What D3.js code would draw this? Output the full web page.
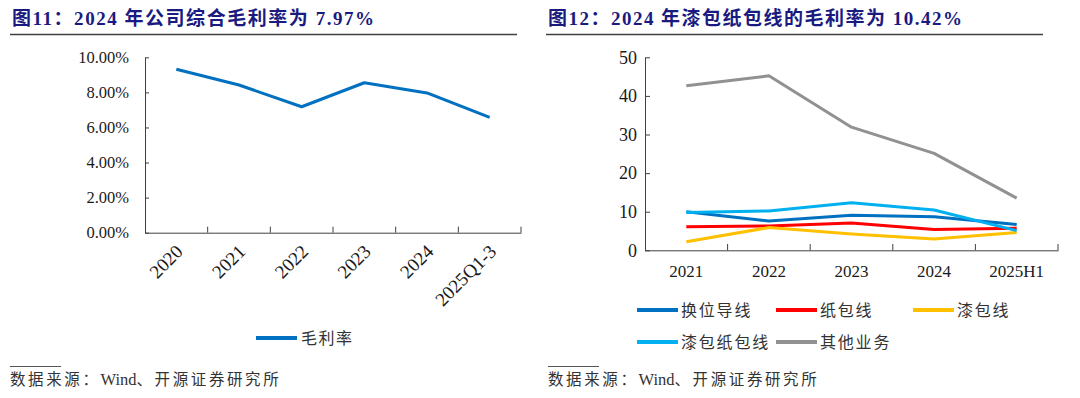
<!DOCTYPE html>
<html><head><meta charset="utf-8">
<script src="https://cdn.jsdelivr.net/npm/d3@7"></script>
<style>
html,body{margin:0;padding:0;background:#fff;}
svg{display:block;}
</style></head>
<body>
<svg id="c" width="1080" height="398"></svg>
<script>
// ---------- data ----------
const leftCategories = ["2020","2021","2022","2023","2024","2025Q1-3"];
const grossMargin = [0.0932, 0.0842, 0.0718, 0.0855, 0.0797, 0.0658];
const leftTicks = [0, 0.02, 0.04, 0.06, 0.08, 0.10];

const rightCategories = ["2021","2022","2023","2024","2025H1"];
const transposedWire = [10.0, 7.6, 9.1, 8.7, 6.7];     // 换位导线
const paperWire = [6.1, 6.3, 7.1, 5.4, 5.7];            // 纸包线
const enamelWire = [2.2, 5.9, 4.2, 2.9, 4.6];           // 漆包线
const enamelPaperWire = [9.8, 10.2, 12.3, 10.42, 5.1];  // 漆包纸包线
const otherBiz = [42.6, 45.2, 31.9, 25.1, 13.5];        // 其他业务
const rightTicks = [0, 10, 20, 30, 40, 50];

const rightSeries = [
  {name:"换位导线", values: transposedWire, color:"#0070C0"},
  {name:"纸包线", values: paperWire, color:"#FF0000"},
  {name:"漆包线", values: enamelWire, color:"#FFC000"},
  {name:"漆包纸包线", values: enamelPaperWire, color:"#00B0F0"},
  {name:"其他业务", values: otherBiz, color:"#919191"}
];

const svg = d3.select("#c");
const serif = "'Liberation Serif','Times New Roman',serif";
const cjk = "'Liberation Serif','Noto Sans CJK SC',sans-serif";
const cjkSans = "'Noto Sans CJK SC',sans-serif";
const axisColor = "#404040";
const titleColor = "#1A1A80";

// ---------- titles ----------
function title(x, text, len){
  svg.append("text").attr("x", x).attr("y", 25)
    .attr("font-family", cjk).attr("font-weight", "bold").attr("font-size", 19)
    .attr("fill", titleColor).attr("textLength", len).attr("lengthAdjust","spacing")
    .text(text);
}
title(12, "图11：2024 年公司综合毛利率为 7.97%", 362);
title(548, "图12：2024 年漆包纸包线的毛利率为 10.42%", 414);
svg.append("line").attr("x1",10).attr("x2",517).attr("y1",34.5).attr("y2",34.5).attr("stroke","#404040").attr("stroke-width",1.5);
svg.append("line").attr("x1",546).attr("x2",1043).attr("y1",34.5).attr("y2",34.5).attr("stroke","#404040").attr("stroke-width",1.5);

// ---------- left chart ----------
const xL = d3.scaleBand().domain(leftCategories).range([145, 521]).padding(0);
const yL = d3.scaleLinear().domain([0, 0.10]).range([232.7, 57.3]);

const gyL = svg.append("g").attr("transform","translate(145,0)")
  .call(d3.axisLeft(yL).tickValues(leftTicks).tickSizeInner(-4).tickSizeOuter(0).tickPadding(16)
    .tickFormat(d => (d*100).toFixed(2) + "%"));
gyL.selectAll(".tick text").attr("font-size",16.5);
svg.append("g").attr("transform","translate(0,232.7)")
  .call(d3.axisBottom(xL).tickSize(0).tickFormat(""));
const leftBounds = leftCategories.map(c => xL(c) + xL.bandwidth());
svg.append("g").selectAll("line").data(leftBounds).join("line")
  .attr("x1", d=>d).attr("x2", d=>d).attr("y1", 232.7).attr("y2", 226.7)
  .attr("stroke", axisColor).attr("stroke-width", 1);
// rotated x labels
svg.append("g").selectAll("text").data(leftCategories).join("text")
  .attr("transform", d => `translate(${xL(d)+xL.bandwidth()/2+3},${248}) rotate(-45)`)
  .attr("text-anchor","end").attr("dy","0.35em")
  .attr("font-family", serif).attr("font-size", 19).attr("fill","#1a1a1a")
  .text(d=>d);

const lineL = d3.line().x((d,i)=>xL(leftCategories[i])+xL.bandwidth()/2).y(d=>yL(d));
svg.append("path").datum(grossMargin).attr("d", lineL)
  .attr("fill","none").attr("stroke","#0070C0").attr("stroke-width",3).attr("stroke-linejoin","round");

// left legend
svg.append("line").attr("x1",256).attr("x2",297).attr("y1",338).attr("y2",338)
  .attr("stroke","#0070C0").attr("stroke-width",4);
svg.append("text").attr("x",301).attr("y",338).attr("dy","0.35em")
  .attr("font-family",cjkSans).attr("font-size",16).attr("fill","#333")
  .attr("letter-spacing",1.5).text("毛利率");

// ---------- right chart ----------
const xR = d3.scaleBand().domain(rightCategories).range([645, 1058]).padding(0);
const yR = d3.scaleLinear().domain([0, 50]).range([250.3, 57.3]);

const gyR = svg.append("g").attr("transform","translate(645,0)")
  .call(d3.axisLeft(yR).tickValues(rightTicks).tickSizeInner(-5).tickSizeOuter(0).tickPadding(8)
    .tickFormat(d3.format("d")));
gyR.selectAll(".tick text").attr("font-size",18);
const gxR = svg.append("g").attr("transform","translate(0,250.3)")
  .call(d3.axisBottom(xR).tickSize(0).tickPadding(15));
gxR.selectAll(".tick text").attr("font-size",17);
const rightBounds = rightCategories.map(c => xR(c) + xR.bandwidth());
svg.append("g").selectAll("line").data(rightBounds).join("line")
  .attr("x1", d=>d).attr("x2", d=>d).attr("y1", 250.3).attr("y2", 244)
  .attr("stroke", axisColor).attr("stroke-width", 1);

const lineR = d3.line().x((d,i)=>xR(rightCategories[i])+xR.bandwidth()/2).y(d=>yR(d));
svg.append("g").selectAll("path").data(rightSeries).join("path")
  .attr("d", d=>lineR(d.values)).attr("fill","none")
  .attr("stroke", d=>d.color).attr("stroke-width",3).attr("stroke-linejoin","round");

// right legend
const legendPos = [[637,310],[776,310],[913,310],[637,342],[776,342]];
const lg = svg.append("g").selectAll("g").data(rightSeries).join("g")
  .attr("transform",(d,i)=>`translate(${legendPos[i][0]},${legendPos[i][1]})`);
lg.append("line").attr("x1",0).attr("x2",41).attr("y1",0).attr("y2",0)
  .attr("stroke",d=>d.color).attr("stroke-width",4);
lg.append("text").attr("x",44).attr("dy","0.35em")
  .attr("font-family",cjkSans).attr("font-size",16).attr("fill","#333")
  .attr("letter-spacing",1.8).text(d=>d.name);

// style axes
svg.selectAll(".domain").attr("stroke", axisColor);
svg.selectAll(".tick line").attr("stroke", axisColor);
svg.selectAll(".tick text").attr("font-family", serif).attr("fill","#1a1a1a");

// ---------- sources ----------
function source(x){
  svg.append("line").attr("x1",x).attr("x2",x+51).attr("y1",366.5).attr("y2",366.5)
    .attr("stroke","#555").attr("stroke-width",1);
  const t = svg.append("text").attr("x",x).attr("y",380).attr("dy","0.35em")
    .attr("font-size",15.5).attr("fill","#333");
  t.append("tspan").attr("font-family",cjkSans).attr("letter-spacing",2.6).text("数据来源：");
  t.append("tspan").attr("font-family",serif).attr("font-size",16.5).text("Wind");
  t.append("tspan").attr("font-family",cjkSans).attr("letter-spacing",2.6).text("、开源证券研究所");
}
source(10);
source(548);
</script>
</body></html>
